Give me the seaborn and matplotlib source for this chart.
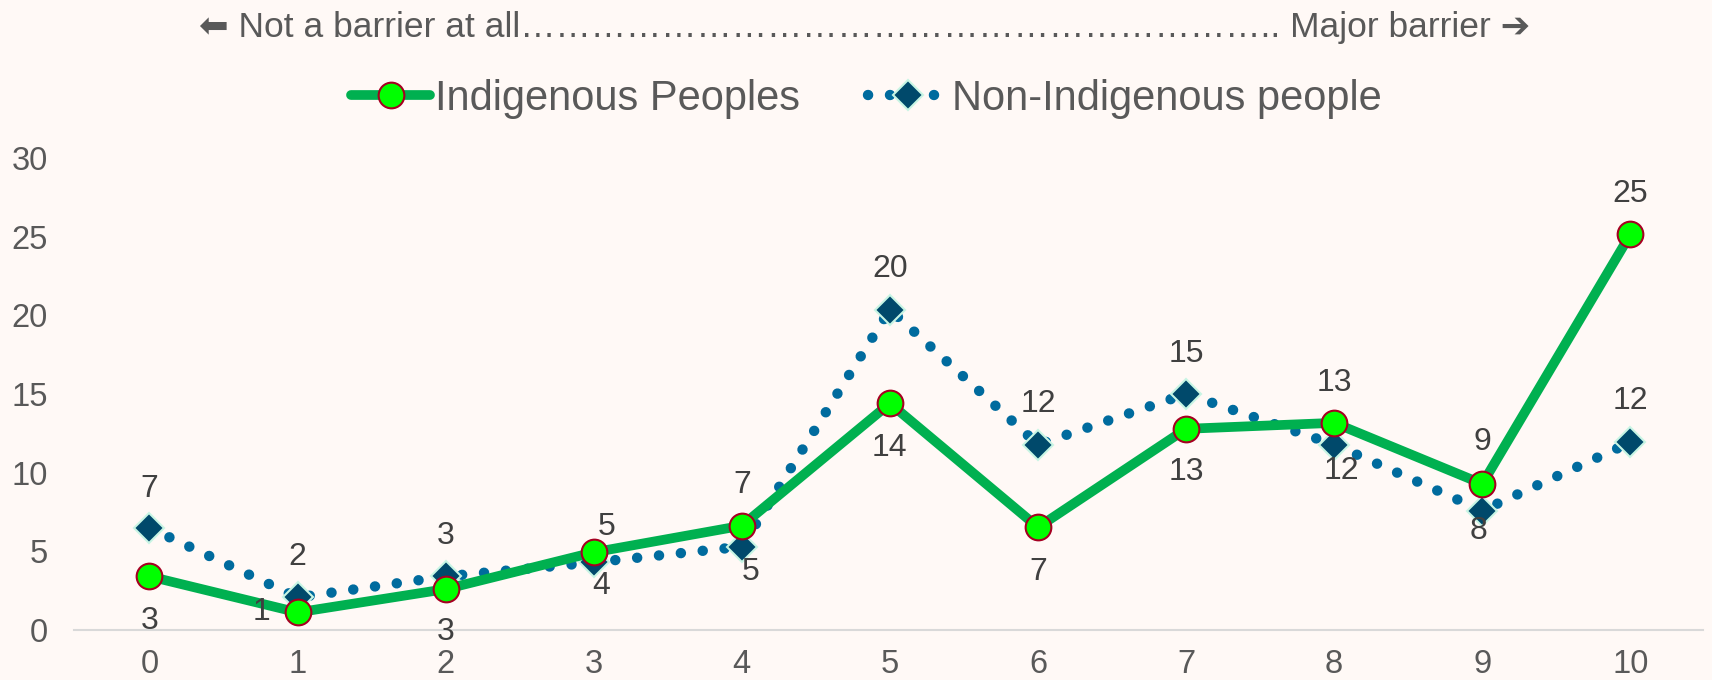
import numpy as np
import pandas as pd
import matplotlib.pyplot as plt
import seaborn as sns

# ---------------- DATA ----------------
scale = list(range(11))
indigenous = [3.41, 1.12, 2.6, 4.94, 6.63, 14.41, 6.53, 12.79, 13.17, 9.29, 25.15]
non_indigenous = [6.49, 2.07, 3.41, 4.30, 5.30, 20.37, 11.79, 15.01, 11.79, 7.59, 11.93]
indig_labels = ["3", "1", "3", "5", "7", "14", "7", "13", "13", "9", "25"]
non_labels = ["7", "2", "3", "4", "5", "20", "12", "15", "12", "8", "12"]

# data label offsets from the point, in points (dx, dy)
indig_off = [(0, -32), (-26, 0), (0, -31), (9, 18), (0, 29), (0, -32),
             (0, -32), (0, -31), (0, 29), (0, 30), (0, 29)]
non_off = [(0, 28), (0, 29), (0, 29), (5, -17), (6, -18), (0, 29),
           (0, 29), (0, 29), (5, -19), (-3, -15), (0, 30)]

df = pd.DataFrame({"scale": scale, "Indigenous Peoples": indigenous,
                   "Non-Indigenous people": non_indigenous})

BG = "#FFF9F6"
GREEN = "#00B050"
BLUE = "#006B9E"
TEXT = "#595959"
LABEL = "#404040"

sns.set_theme(style="white")
plt.rcParams["font.family"] = ["Liberation Sans", "DejaVu Sans"]

fig = plt.figure(figsize=(17.12, 6.8), dpi=100, facecolor=BG)
ax = fig.add_axes([0.0432, 0.0735, 0.9515, 0.694])
ax.set_facecolor(BG)

sns.lineplot(data=df, x="scale", y="Non-Indigenous people", ax=ax, color=BLUE,
             linewidth=7.5, linestyle=(0, (0.01, 2.1)),
             marker="D", markersize=15, markerfacecolor="#00496B",
             markeredgecolor="#C8F5E4", markeredgewidth=1.5,
             label="Non-Indigenous people", zorder=3)
sns.lineplot(data=df, x="scale", y="Indigenous Peoples", ax=ax, color=GREEN,
             linewidth=7, marker="o", markersize=18.5, markerfacecolor="#00FF00",
             markeredgecolor="#A50021", markeredgewidth=1.5,
             label="Indigenous Peoples", zorder=4)
# round dots for the dotted series
ax.lines[0].set_dash_capstyle("round")

def put_labels(vals, labels, offsets):
    for x, v, lab, off in zip(scale, vals, labels, offsets):
        ax.annotate(lab, (x, v), xytext=off, textcoords="offset points",
                    ha="center", va="center", fontsize=23, color=LABEL, zorder=5)


put_labels(indigenous, indig_labels, indig_off)
put_labels(non_indigenous, non_labels, non_off)

ax.set_xlim(-0.51, 10.49)
ax.set_ylim(0, 30)
ax.set_xticks(scale)
ax.set_yticks([0, 5, 10, 15, 20, 25, 30])
ax.tick_params(axis="both", length=0, labelsize=23.5, labelcolor=TEXT)
ax.tick_params(axis="x", pad=14)
ax.tick_params(axis="y", pad=19)
ax.set_xlabel("")
ax.set_ylabel("")
for s in ["top", "right", "left"]:
    ax.spines[s].set_visible(False)
ax.spines["bottom"].set_color("#D9D9D9")
ax.spines["bottom"].set_linewidth(1.5)

handles, labs = ax.get_legend_handles_labels()
ax.get_legend().remove()
order = [1, 0]
leg = fig.legend([handles[i] for i in order], [labs[i] for i in order],
                 loc="center", bbox_to_anchor=(0.506, 0.855), ncol=2,
                 frameon=False, fontsize=30, handlelength=1.9,
                 handletextpad=0.1, columnspacing=1.65, labelcolor=TEXT)
for h in leg.get_lines():
    h.set_dash_capstyle("round")

header = "\u2B05 Not a barrier at all" + "\u2026" * 21 + ".. Major barrier \u2794"
fig.text(0.505, 0.96, header, ha="center", va="center", fontsize=25.5,
         color=TEXT)

fig.savefig("out.png", dpi=100, facecolor=BG)
